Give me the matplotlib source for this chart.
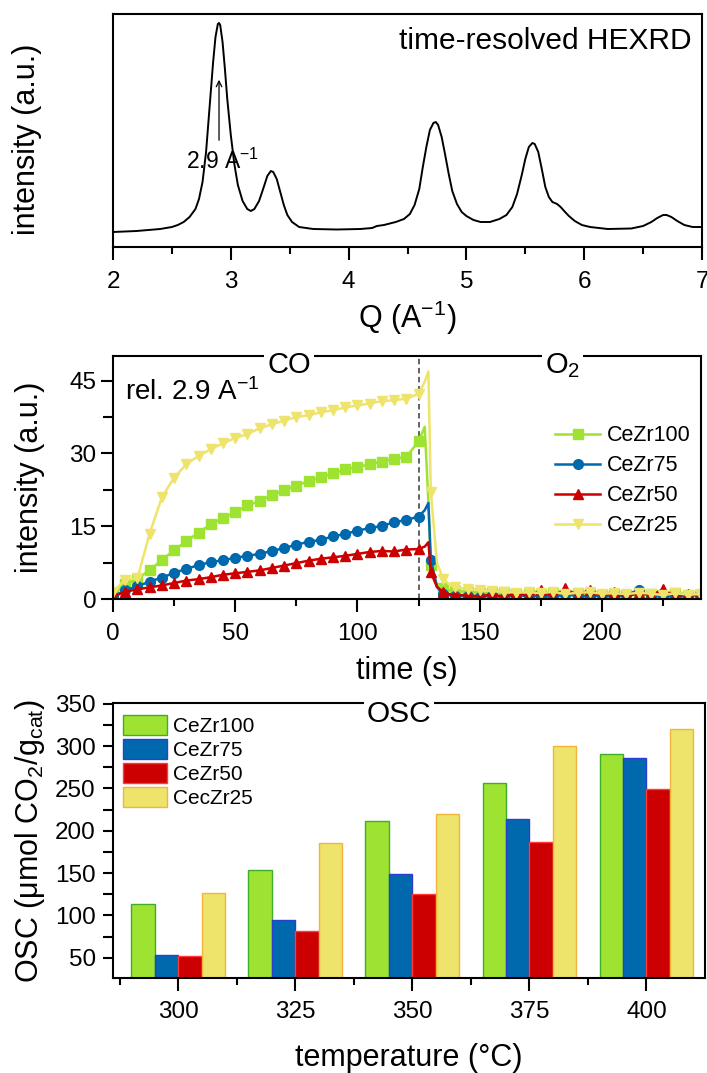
import matplotlib
matplotlib.use("Agg")
import matplotlib.pyplot as plt
from matplotlib.ticker import MultipleLocator, FixedLocator, NullLocator

plt.rcParams['font.family'] = ['Liberation Sans', 'DejaVu Sans']
plt.rcParams['mathtext.fontset'] = 'custom'
plt.rcParams['mathtext.rm'] = 'Liberation Sans'
plt.rcParams['mathtext.it'] = 'Liberation Sans:italic'

# ---- panel 1: HEXRD pattern ----
q = [2.0, 2.2, 2.4, 2.5, 2.55, 2.6, 2.65, 2.7, 2.73, 2.76, 2.79, 2.82, 2.85, 2.87, 2.89, 2.90,
     2.91, 2.93, 2.95, 2.97, 3.00, 3.03, 3.06, 3.10, 3.14, 3.17, 3.20, 3.24, 3.28, 3.31, 3.34,
     3.36, 3.39, 3.42, 3.45, 3.48, 3.52, 3.58, 3.7, 3.9, 4.1, 4.2, 4.24, 4.3, 4.4, 4.47, 4.52,
     4.56, 4.6, 4.63, 4.66, 4.69, 4.72, 4.74, 4.76, 4.79, 4.82, 4.85, 4.88, 4.92, 4.96, 5.0,
     5.06, 5.12, 5.2, 5.28, 5.34, 5.39, 5.43, 5.47, 5.5, 5.53, 5.56, 5.58, 5.61, 5.64, 5.67,
     5.7, 5.73, 5.77, 5.8, 5.83, 5.87, 5.92, 5.98, 6.05, 6.2, 6.4, 6.5, 6.57, 6.62, 6.67, 6.7,
     6.74, 6.79, 6.85, 6.92, 7.0]
inten = [15, 16, 18, 20, 22, 25, 30, 38, 48, 65, 95, 140, 185, 210, 223, 224,
         222, 205, 178, 148, 112, 83, 62, 46, 38, 36, 38, 46, 60, 71, 76,
         75, 68, 55, 42, 32, 25, 20, 18, 17.5, 18, 19, 21, 22, 25, 28, 33,
         42, 58, 80, 100, 117, 124, 125, 122, 110, 92, 73, 56, 43, 35, 31,
         27, 25, 25, 28, 32, 40, 53, 72, 88, 100, 104, 103, 95, 78, 60,
         50, 45, 43, 40, 36, 31, 26, 22, 20, 18, 18.5, 21, 25, 29, 32, 32,
         30, 26, 22, 20, 20]

# ---- panel 2: relative intensity of the 2.9 A^-1 peak vs time ----
time_s = [0, 5, 10, 15, 20, 25, 30, 35, 40, 45, 50, 55, 60, 65, 70, 75, 80, 85, 90, 95, 100,
          105, 110, 115, 120, 125, 127.5, 129, 130, 132.5, 135, 137.5,
          140, 145, 150, 155, 160, 165, 170, 175, 180, 185, 190, 195, 200, 205, 210, 215,
          220, 225, 230, 235, 240]
cezr100 = [1.0, 3.0, 4.1, 6.0, 8.0, 10.1, 11.9, 13.7, 15.4, 16.7, 17.9, 19.3, 20.2, 21.4, 22.4,
           23.4, 24.3, 25.1, 25.9, 26.7, 27.2, 27.8, 28.3, 28.9, 29.3, 32.5,
           35.5, 20.0, 7.0, 3.0, 2.2, 1.8,
           1.6, 1.5, 1.3, 1.2, 1.4, 1.0, 1.1, 0.9, 1.3, 0.8, 1.2, 1.0, 0.9, 1.1, 0.8, 1.2,
           1.0, 0.7, 1.3, 0.9, 0.8]
cezr75 = [0.5, 1.8, 2.6, 3.6, 4.4, 5.4, 6.2, 7.0, 7.6, 8.0, 8.5, 8.9, 9.3, 9.9, 10.5,
          11.2, 11.8, 12.2, 12.9, 13.4, 14.1, 14.6, 15.1, 15.8, 16.3, 17.0,
          18.3, 19.8, 8.0, 2.5, 1.0, 0.8,
          0.6, 0.6, 0.4, 0.8, 0.3, 0.9, 0.5, 0.7, 0.4, 1.0, 0.6, 0.5, 0.8, 0.4, 0.9, 1.8,
          0.5, 0.7, 0.4, 0.6, 0.9]
cezr50 = [0.5, 1.5, 2.0, 2.4, 2.8, 3.3, 3.8, 4.1, 4.5, 5.0, 5.3, 5.6, 5.9, 6.4, 6.9,
          7.4, 7.9, 8.3, 8.6, 8.9, 9.3, 9.7, 9.9, 9.8, 10.2, 10.3,
          10.8, 11.7, 5.5, 2.5, 1.5, 1.0,
          0.8, 0.8, 0.5, 1.0, 0.4, 1.3, 0.6, 1.8, 0.5, 2.2, 0.7, 1.9, 0.6, 1.4, 0.5, 1.2,
          0.8, 2.0, 0.5, 1.1, 0.6]
cezr25 = [1.5, 4.0, 4.3, 13.5, 21.0, 25.0, 27.8, 29.5, 30.9, 32.1, 33.2, 34.0, 35.2, 36.0, 36.8,
          37.5, 37.9, 38.5, 38.9, 39.5, 39.9, 40.3, 40.8, 41.0, 41.3, 42.3,
          44.8, 46.9, 22.0, 7.5, 4.2, 3.0,
          2.4, 2.0, 1.8, 1.6, 1.5, 1.3, 1.4, 1.2, 1.5, 1.0, 1.3, 1.4, 1.1, 1.2, 1.0, 1.3,
          1.1, 0.8, 1.2, 0.9, 1.0]
t_switch = 125

# ---- panel 3: OSC vs temperature ----
temps = ['300', '325', '350', '375', '400']
osc_100 = [114, 154, 212, 256, 291]
osc_75 = [53, 94, 149, 214, 286]
osc_50 = [52, 81, 125, 187, 249]
osc_25 = [127, 186, 220, 300, 320]

green, blue, red, yellow = '#9fe332', '#0068ad', '#cc0000', '#eee46c'

fig = plt.figure(figsize=(7.07, 10.73), dpi=100)
W, H = 707.0, 1073.0


def box(l, t, r, b):
    return [l / W, 1 - b / H, (r - l) / W, (b - t) / H]


ax1 = fig.add_axes(box(113, 14, 702, 247))
ax2 = fig.add_axes(box(113, 356, 701, 599))
ax3 = fig.add_axes(box(113, 703, 705, 978))

for ax in (ax1, ax2, ax3):
    for s in ax.spines.values():
        s.set_linewidth(1.5)
    ax.tick_params(which='both', direction='out', width=1.5, labelsize=17.5,
                   top=False, right=False)
    ax.tick_params(which='major', length=9)
    ax.tick_params(which='minor', length=5)
    ax.tick_params(axis='x', pad=8)
    ax.tick_params(axis='y', pad=3)

# --- panel 1 ---
ax1.plot(q, inten, color='black', lw=1.4)
ax1.set_xlim(2, 7)
ax1.set_ylim(0, 233)
ax1.xaxis.set_major_locator(MultipleLocator(1))
ax1.xaxis.set_minor_locator(MultipleLocator(0.5))
ax1.yaxis.set_major_locator(NullLocator())
ax1.set_xlabel('Q (A$^\\mathregular{-1}$)', fontsize=22)
ax1.xaxis.set_label_coords(0.5, -0.305)
ax1.xaxis.label.set_va('center')
ax1.set_ylabel('intensity (a.u.)', fontsize=22)
ax1.yaxis.set_label_coords(-0.146, 0.464)
ax1.yaxis.label.set_va('center')
ax1.text(0.983, 0.885, 'time-resolved HEXRD', transform=ax1.transAxes, ha='right',
         va='center', fontsize=21.5)
ax1.annotate('', xy=(2.9, 170), xytext=(2.9, 104),
             arrowprops=dict(arrowstyle='->', lw=0.9, color='black'))
ax1.text(2.62, 86, '2.9 A$^\\mathregular{-1}$', ha='left', va='center', fontsize=16.5)

# --- panel 2 ---
series = [('CeZr100', cezr100, green, 's'), ('CeZr75', cezr75, blue, 'o'),
          ('CeZr50', cezr50, red, '^'), ('CeZr25', cezr25, yellow, 'v')]
marks = [i for i, t in enumerate(time_s) if t % 5 == 0]
for name, vals, col, mk in series:
    ax2.plot(time_s, vals, color=col, lw=1.8, marker=mk, markersize=7,
             markevery=marks, label=name)
ax2.axvline(t_switch, color='#555555', ls=(0, (3, 2)), lw=1.3, zorder=0)
ax2.set_xlim(0, 240.5)
ax2.set_ylim(0, 50.1)
ax2.xaxis.set_major_locator(MultipleLocator(50))
ax2.xaxis.set_minor_locator(MultipleLocator(25))
ax2.yaxis.set_major_locator(MultipleLocator(15))
ax2.yaxis.set_minor_locator(MultipleLocator(7.5))
ax2.tick_params(axis='y', which='minor', length=7)
ax2.set_xlabel('time (s)', fontsize=22)
ax2.xaxis.set_label_coords(0.5, -0.298)
ax2.xaxis.label.set_va('center')
ax2.set_ylabel('intensity (a.u.)', fontsize=22)
ax2.yaxis.set_label_coords(-0.141, 0.5)
ax2.yaxis.label.set_va('center')
ax2.text(0.02, 0.851, 'rel. 2.9 A$^\\mathregular{-1}$', transform=ax2.transAxes,
         ha='left', va='center', fontsize=20)
bb = dict(facecolor='white', edgecolor='none', pad=2)
ax2.text(72, 0.962, 'CO', transform=ax2.get_xaxis_transform(), ha='center', va='center',
         fontsize=21, bbox=bb, clip_on=False, zorder=10)
ax2.text(184, 0.962, 'O$_\\mathregular{2}$', transform=ax2.get_xaxis_transform(), ha='center',
         va='center', fontsize=21, bbox=bb, clip_on=False, zorder=10)
ax2.legend(loc='upper left', bbox_to_anchor=(0.752, 0.715), frameon=False, fontsize=15.5,
           handlelength=2.1, handletextpad=0.3, labelspacing=0.42, borderpad=0,
           borderaxespad=0, numpoints=1)

# --- panel 3 ---
x = list(range(len(temps)))
bw = 0.2
bars = [('CeZr100', osc_100, green, '#3cae2a'), ('CeZr75', osc_75, blue, '#2a3fd0'),
        ('CeZr50', osc_50, red, '#ff3b3b'), ('CecZr25', osc_25, yellow, '#f2b43c')]
for k, (name, vals, col, ec) in enumerate(bars):
    ax3.bar([xi + (k - 1.5) * bw for xi in x], vals, width=bw, color=col, edgecolor=ec,
            linewidth=1, label=name)
ax3.set_xlim(-0.556, 4.5)
ax3.set_ylim(26, 351)
ax3.set_xticks(x)
ax3.set_xticklabels(temps)
ax3.xaxis.set_minor_locator(FixedLocator([-0.5, 0.5, 1.5, 2.5, 3.5]))
ax3.yaxis.set_major_locator(MultipleLocator(50))
ax3.yaxis.set_minor_locator(MultipleLocator(25))
ax3.tick_params(axis='y', which='both', length=7.5, pad=5)
ax3.tick_params(axis='x', which='major', length=9.5, pad=7)
ax3.set_xlabel('temperature (\u00b0C)', fontsize=22)
ax3.xaxis.set_label_coords(0.5, -0.29)
ax3.xaxis.label.set_va('center')
ax3.set_ylabel('OSC (\u03bcmol CO$_\\mathregular{2}$/g$_\\mathregular{cat}$)', fontsize=22)
ax3.yaxis.set_label_coords(-0.141, 0.5)
ax3.yaxis.label.set_va('center')
ax3.text(0.483, 0.96, 'OSC', transform=ax3.transAxes, ha='center', va='center',
         fontsize=21.5, bbox=bb, clip_on=False, zorder=10)
ax3.legend(loc='upper left', bbox_to_anchor=(0.017, 0.955), frameon=False, fontsize=15,
           handlelength=2.1, handleheight=1.1, handletextpad=0.3, labelspacing=0.14,
           borderpad=0, borderaxespad=0)

fig.savefig('out.png', dpi=100)
